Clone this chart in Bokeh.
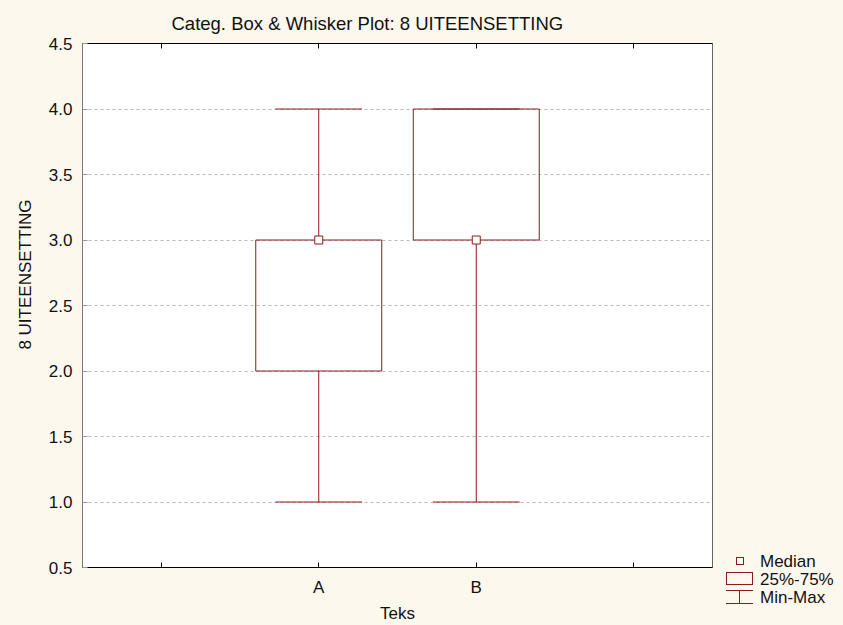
import math
from bokeh.plotting import figure
from bokeh.layouts import row
from bokeh.models import (ColumnDataSource, FixedTicker, LinearAxis, Div,
                          PrintfTickFormatter, Range1d, Label)
from bokeh.embed import file_html
from bokeh.resources import INLINE

# ---- data ----
categories = ["A", "B"]
positions = [1, 2]
mins = [1.0, 1.0]
q1s = [2.0, 3.0]
medians = [3.0, 3.0]
q3s = [3.0, 4.0]
maxs = [4.0, 4.0]
x_ticks = [0, 1, 2, 3]
x_tick_labels = {0: "", 1: "A", 2: "B", 3: ""}
y_ticks = [0.5, 1.0, 1.5, 2.0, 2.5, 3.0, 3.5, 4.0, 4.5]
grid_ticks = [1.0, 1.5, 2.0, 2.5, 3.0, 3.5, 4.0]
legend_labels = ["Median", "25%-75%", "Min-Max"]

RED = "#8B1A1A"
BG = "#FDF8EE"
FONT = "Liberation Sans"
BOX_HALF = 0.4
CAP_HALF = 0.275

src = ColumnDataSource(dict(
    x=positions,
    lo=mins, q1=q1s, med=medians, q3=q3s, hi=maxs,
    left=[x - BOX_HALF for x in positions],
    right=[x + BOX_HALF for x in positions],
    cl=[x - CAP_HALF for x in positions],
    cr=[x + CAP_HALF for x in positions],
))

p = figure(width=722, height=625,
           x_range=Range1d(-0.5, 3.5), y_range=Range1d(0.5, 4.5),
           output_backend="svg", toolbar_location=None,
           min_border_left=82, min_border_right=10,
           min_border_top=42, min_border_bottom=57,
           background_fill_color="white", border_fill_color=BG,
           title="Categ. Box & Whisker Plot: 8 UITEENSETTING")

p.title.text_font = FONT
p.title.text_font_size = "18.5px"
p.title.text_font_style = "normal"
p.title.text_color = "#111111"
p.title.align = "left"
p.title.offset = 89
try:
    p.title.standoff = 20
except AttributeError:
    pass

# whiskers, boxes, medians
p.segment(x0="x", y0="lo", x1="x", y1="q1", source=src, line_color=RED, line_width=1)
p.segment(x0="x", y0="q3", x1="x", y1="hi", source=src, line_color=RED, line_width=1)
p.segment(x0="cl", y0="lo", x1="cr", y1="lo", source=src, line_color=RED, line_width=1)
p.segment(x0="cl", y0="hi", x1="cr", y1="hi", source=src, line_color=RED, line_width=1)
p.quad(left="left", right="right", bottom="q1", top="q3", source=src,
       fill_alpha=0, line_color=RED, line_width=1)
p.scatter(x="x", y="med", source=src, marker="square", size=8,
          fill_color="white", line_color=RED, line_width=1)

# axes
xa = p.xaxis[0]
xa.ticker = FixedTicker(ticks=x_ticks)
xa.major_label_overrides = x_tick_labels
xa.axis_label = "Teks"
ya = p.yaxis[0]
ya.ticker = FixedTicker(ticks=y_ticks)
ya.formatter = PrintfTickFormatter(format="%.1f")

for ax in (xa, ya):
    ax.major_label_text_font = FONT
    ax.major_label_text_font_size = "17px"
    ax.major_label_text_color = "#111111"
    ax.axis_label_text_font = FONT
    ax.axis_label_text_font_size = "17px"
    ax.axis_label_text_font_style = "normal"
    ax.axis_label_text_color = "#111111"
    ax.minor_tick_line_color = None
    ax.major_tick_out = 0
    ax.major_tick_in = 5
    ax.major_label_standoff = 10

xa.axis_line_color = "black"
xa.major_tick_line_color = "black"
xa.axis_label_standoff = 4
ya.axis_line_color = "#777777"
ya.major_tick_line_color = "#999999"

top = LinearAxis(ticker=FixedTicker(ticks=x_ticks),
                 major_label_overrides={0: "", 1: "", 2: "", 3: ""},
                 major_label_standoff=0,
                 major_tick_in=5, major_tick_out=0, minor_tick_line_color=None,
                 axis_line_color="black", major_tick_line_color="black")
p.add_layout(top, "above")

p.outline_line_color = "#666666"
p.xgrid.visible = False
p.ygrid.ticker = FixedTicker(ticks=grid_ticks)
p.ygrid.grid_line_color = "#b8b8b8"
p.ygrid.grid_line_dash = "3 3"

# y axis title (placed as in the original, slightly above centre)
ylab = Label(x=-1, y=293, x_units="screen", y_units="screen", text="8 UITEENSETTING",
             angle=math.pi / 2, text_align="center", text_baseline="middle",
             text_font=FONT, text_font_size="17px", text_color="#111111")
p.add_layout(ylab, "left")

# ---- legend in the right margin (as in the original) ----
txt = ('font-family:\'Liberation Sans\';font-size:17px;fill:#111111')
legend_svg = f"""
<svg xmlns="http://www.w3.org/2000/svg" width="125" height="625" style="display:block;background:{BG}">
  <g transform="translate(-4,0)">
  <rect x="22.5" y="557.5" width="7" height="7" fill="white" stroke="{RED}" stroke-width="1"/>
  <rect x="12.5" y="572.5" width="26" height="12" fill="none" stroke="{RED}" stroke-width="1"/>
  <line x1="12" y1="590.5" x2="39" y2="590.5" stroke="{RED}" stroke-width="1"/>
  <line x1="25.5" y1="590.5" x2="25.5" y2="603.5" stroke="{RED}" stroke-width="1"/>
  <line x1="12" y1="603.5" x2="39" y2="603.5" stroke="{RED}" stroke-width="1"/>
  <text x="46" y="567" style="{txt}">{legend_labels[0]}</text>
  <text x="46" y="584.5" style="{txt}">{legend_labels[1]}</text>
  <text x="46" y="603" style="{txt}">{legend_labels[2]}</text>
  </g>
</svg>
"""
leg = Div(text=legend_svg, width=125, height=625, margin=(0, 0, 0, -4),
          styles={"background-color": BG, "padding": "0", "overflow": "hidden"})

layout = row(p, leg, spacing=0, styles={"background-color": BG})
open("out.html", "w").write(file_html(layout, INLINE))
